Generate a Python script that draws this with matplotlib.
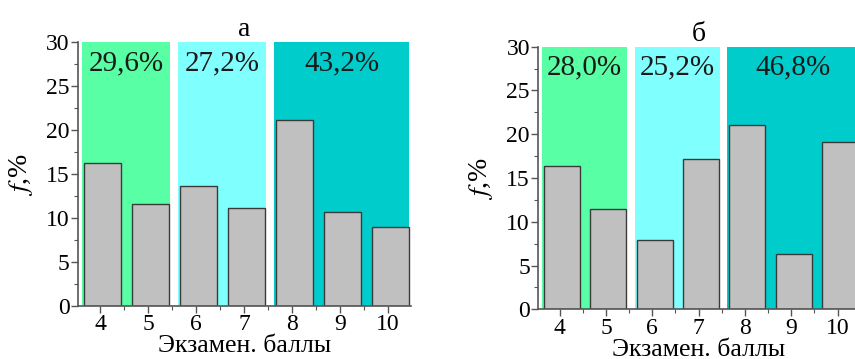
"""
Exam score distributions for two groups, bars over shaded score bands.
"""

import matplotlib.pyplot as plt
from matplotlib.ticker import MultipleLocator

SCORES = [4, 5, 6, 7, 8, 9, 10]
FREQ_A = [16.3, 11.6, 13.7, 11.2, 21.1, 10.7, 9.0]
FREQ_B = [16.4, 11.5, 7.95, 17.2, 21.1, 6.3, 19.15]
BAND_LABELS_A = ["29,6%", "27,2%", "43,2%"]
BAND_LABELS_B = ["28,0%", "25,2%", "46,8%"]
BAND_EDGES = [(3.62, 5.46), (5.62, 7.46), (7.62, 10.44)]
BAND_COLORS = ["#58FFA5", "#80FFFF", "#00CCCC"]
TITLES = ["а", "б"]
XLABEL = "Экзамен. баллы"

plt.rcParams.update({
    "font.family": ["Liberation Serif", "DejaVu Serif"],
    "mathtext.fontset": "stix",
    "font.size": 17,
})


def draw_panel(ax, freqs, band_labels, title):
    for (lo, hi), color, label in zip(BAND_EDGES, BAND_COLORS, band_labels):
        ax.axvspan(lo, hi, ymin=0, ymax=1, color=color, lw=0, zorder=0)
        ax.text((lo + hi) / 2, 27.6, label, ha="center", va="center",
                fontsize=21, color="#1a1a1a", zorder=3)
    ax.bar([s + 0.05 for s in SCORES], freqs, width=0.78, color="#C0C0C0",
           edgecolor="#3a3a3a", linewidth=1.0, zorder=2)
    ax.set_xlim(3.54, 10.47)
    ax.set_ylim(0, 30)
    ax.set_xticks(SCORES)
    ax.xaxis.set_minor_locator(MultipleLocator(0.5))
    ax.yaxis.set_major_locator(MultipleLocator(5))
    ax.yaxis.set_minor_locator(MultipleLocator(2.5))
    for side in ("top", "right"):
        ax.spines[side].set_visible(False)
    for side in ("left", "bottom"):
        ax.spines[side].set_color("#555555")
        ax.spines[side].set_linewidth(1.2)
    ax.tick_params(which="major", direction="out", length=5, width=1.0,
                   color="#555555", labelsize=17, pad=1)
    ax.tick_params(which="minor", direction="out", length=3, width=0.8,
                   color="#555555")
    ax.set_xlabel(XLABEL, fontsize=18.5, labelpad=0)
    ax.set_ylabel(r"$f$,%", fontsize=20, labelpad=8)
    ax.set_title(title, fontsize=20, pad=1)


fig = plt.figure(figsize=(8.55, 3.59), dpi=100)
ax_a = fig.add_axes([0.0912, 0.1476, 0.389, 0.735])
ax_b = fig.add_axes([0.6296, 0.1384, 0.3755, 0.7315])
draw_panel(ax_a, FREQ_A, BAND_LABELS_A, TITLES[0])
draw_panel(ax_b, FREQ_B, BAND_LABELS_B, TITLES[1])
fig.savefig("out.png", dpi=100)
